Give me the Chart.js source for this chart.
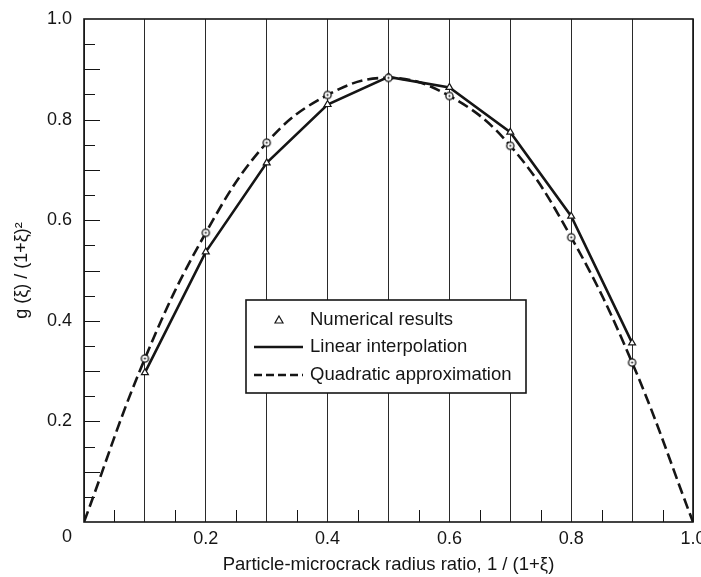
<!DOCTYPE html>
<html>
<head>
<meta charset="utf-8">
<script src="https://cdn.jsdelivr.net/npm/chart.js@4/dist/chart.umd.min.js"></script>
<style>
  html, body { margin: 0; padding: 0; background: #fff; }
  #wrap { width: 701px; height: 577px; }
</style>
</head>
<body>
<div id="wrap"><canvas id="chart" width="701" height="577"></canvas></div>
<script>
// data
const ratioX = [0, 0.1, 0.2, 0.3, 0.4, 0.5, 0.6, 0.7, 0.8, 0.9, 1.0];
const numericalX = [0.1, 0.2, 0.3, 0.4, 0.5, 0.6, 0.7, 0.8, 0.9];
const numericalY = [0.297, 0.537, 0.714, 0.830, 0.885, 0.864, 0.775, 0.608, 0.356];
const quadraticY = [0, 0.325, 0.575, 0.754, 0.849, 0.883, 0.847, 0.748, 0.566, 0.317, 0];
const xTickLabels = ['0', '0.2', '0.4', '0.6', '0.8', '1.0'];
const yTickLabels = ['0.2', '0.4', '0.6', '0.8', '1.0'];
const seriesNames = ['Numerical results', 'Linear interpolation', 'Quadratic approximation'];

const FONT = '"Liberation Sans", Arial, Helvetica, sans-serif';
const INK = '#151515';

// open circle with a dot in it, like the plotted markers
const dotCircle = document.createElement('canvas');
dotCircle.width = 11; dotCircle.height = 11;
(function () {
    const c = dotCircle.getContext('2d');
    c.strokeStyle = INK;
    c.lineWidth = 1.3;
    c.fillStyle = '#fff';
    c.beginPath(); c.arc(5.5, 5.5, 3.6, 0, Math.PI * 2); c.fill(); c.stroke();
    c.fillStyle = INK;
    c.beginPath(); c.arc(5.5, 5.5, 1, 0, Math.PI * 2); c.fill();
})();

const linearPts = numericalX.map((x, i) => ({ x: x, y: numericalY[i] }));
const quadPts = ratioX.map((x, i) => ({ x: x, y: quadraticY[i] }));

// frame, inward tick marks, corner "0" and legend box
const decorations = {
    id: 'decorations',
    beforeDatasetsDraw(chart) {
        const { ctx, chartArea: a, scales } = chart;
        ctx.save();
        ctx.strokeStyle = INK;
        ctx.lineWidth = 1;
        // left axis ticks every 0.05
        for (let k = 1; k < 20; k++) {
            const y = Math.round(scales.y.getPixelForValue(k / 20)) + 0.5;
            const len = (k % 2 === 0) ? 16 : 11;
            ctx.beginPath(); ctx.moveTo(a.left, y); ctx.lineTo(a.left + len, y); ctx.stroke();
        }
        // bottom ticks at the half steps
        for (let k = 1; k < 20; k += 2) {
            const x = Math.round(scales.x.getPixelForValue(k / 20)) + 0.5;
            ctx.beginPath(); ctx.moveTo(x, a.bottom); ctx.lineTo(x, a.bottom - 12); ctx.stroke();
        }
        ctx.lineWidth = 1.6;
        ctx.strokeRect(a.left, a.top, a.right - a.left, a.bottom - a.top);
        // corner zero
        ctx.fillStyle = INK;
        ctx.font = '18px ' + FONT;
        ctx.textAlign = 'center';
        ctx.textBaseline = 'middle';
        ctx.fillText(xTickLabels[0], a.left - 17, a.bottom + 15);
        ctx.restore();
    },
    afterDatasetsDraw(chart) {
        const { ctx } = chart;
        const bx = 246, by = 300, bw = 280, bh = 93;
        ctx.save();
        ctx.fillStyle = '#fff';
        ctx.fillRect(bx, by, bw, bh);
        ctx.strokeStyle = INK;
        ctx.lineWidth = 1.6;
        ctx.strokeRect(bx, by, bw, bh);
        const rows = [320, 347, 375];
        // triangle
        ctx.lineWidth = 1.2;
        ctx.beginPath();
        ctx.moveTo(279, rows[0] - 4); ctx.lineTo(283, rows[0] + 3); ctx.lineTo(275, rows[0] + 3); ctx.closePath();
        ctx.stroke();
        // solid
        ctx.lineWidth = 2.6;
        ctx.beginPath(); ctx.moveTo(254, rows[1]); ctx.lineTo(303, rows[1]); ctx.stroke();
        // dashed
        ctx.setLineDash([8, 4]);
        ctx.beginPath(); ctx.moveTo(254, rows[2]); ctx.lineTo(303, rows[2]); ctx.stroke();
        ctx.setLineDash([]);
        ctx.fillStyle = INK;
        ctx.font = '18.5px ' + FONT;
        ctx.textAlign = 'left';
        ctx.textBaseline = 'middle';
        seriesNames.forEach((t, i) => ctx.fillText(t, 310, rows[i]));
        ctx.restore();
    }
};

const cfg = {
    type: 'line',
    data: {
        datasets: [
            {
                label: seriesNames[2],
                data: quadPts,
                borderColor: INK,
                borderWidth: 2.6,
                borderDash: [11, 5],
                tension: 0.4,
                pointStyle: dotCircle,
                pointRadius: ctx => (ctx.dataIndex === 0 || ctx.dataIndex === ratioX.length - 1) ? 0 : 4,
                fill: false
            },
            {
                label: seriesNames[1],
                data: linearPts,
                borderColor: INK,
                borderWidth: 2.6,
                tension: 0,
                pointStyle: 'triangle',
                pointRadius: 4,
                pointBorderWidth: 1.2,
                pointBackgroundColor: '#fff',
                pointBorderColor: INK,
                fill: false
            }
        ]
    },
    options: {
        responsive: false,
        animation: false,
        events: [],
        layout: { padding: { top: 19, right: 8, left: 0, bottom: 0 } },
        plugins: { legend: { display: false }, tooltip: { enabled: false } },
        scales: {
            x: {
                type: 'linear',
                min: 0, max: 1,
                grid: { color: '#2a2a2a', lineWidth: 1, drawTicks: false },
                border: { display: false },
                ticks: {
                    stepSize: 0.1,
                    padding: 6,
                    color: INK,
                    font: { family: FONT, size: 18 },
                    maxRotation: 0,
                    autoSkip: false,
                    callback: v => {
                        const k = Math.round(v * 10);
                        if (k === 0 || k % 2) return '';
                        return xTickLabels[k / 2];
                    }
                },
                title: {
                    display: true,
                    text: 'Particle-microcrack radius ratio, 1 / (1+ξ)',
                    color: INK,
                    font: { family: FONT, size: 18.5 },
                    padding: { top: 0, bottom: 1 }
                },
                afterFit: s => { s.height = 55; s.paddingLeft = 0; s.paddingRight = 0; }
            },
            y: {
                type: 'linear',
                min: 0, max: 1,
                grid: { display: false },
                border: { display: false },
                ticks: {
                    stepSize: 0.2,
                    padding: 4,
                    color: INK,
                    font: { family: FONT, size: 18 },
                    callback: v => {
                        const k = Math.round(v * 5);
                        return k === 0 ? '' : yTickLabels[k - 1];
                    }
                },
                title: {
                    display: true,
                    text: 'g (ξ) / (1+ξ)²',
                    color: INK,
                    font: { family: FONT, size: 18 },
                    padding: { top: 11, bottom: 0 }
                },
                afterFit: s => { s.width = 84; s.paddingTop = 0; s.paddingBottom = 0; }
            }
        }
    },
    plugins: [decorations]
};

new Chart(document.getElementById('chart'), cfg);
</script>
</body>
</html>
